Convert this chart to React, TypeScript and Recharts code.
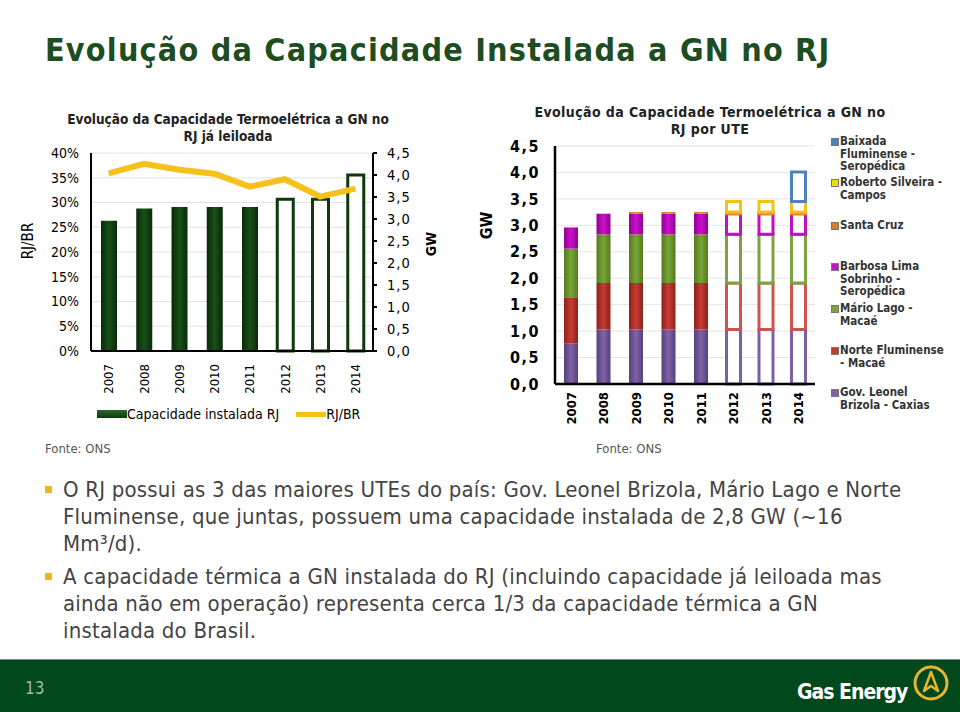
import React from "react";
import {
  Bar,
  BarChart,
  CartesianGrid,
  Cell,
  ComposedChart,
  Line,
  XAxis,
  YAxis,
} from "recharts";

const FONT = '"DejaVu Sans Condensed", "DejaVu Sans", sans-serif';

const years = ["2007", "2008", "2009", "2010", "2011", "2012", "2013", "2014"];
// first year that is only auctioned (hollow bars)
const FIRST_AUCTIONED = 5;

// left chart
const capacidadeRJ = [2.96, 3.24, 3.27, 3.27, 3.27, 3.45, 3.45, 4.0];
const rjbrShare = [0.359, 0.378, 0.366, 0.358, 0.332, 0.347, 0.312, 0.328];
const pctTicks = [0, 0.05, 0.1, 0.15, 0.2, 0.25, 0.3, 0.35, 0.4];
const gwTicks = [0, 0.5, 1, 1.5, 2, 2.5, 3, 3.5, 4, 4.5];

// right chart, stacked per UTE (GW)
const govLeonelBrizola = [0.77, 1.03, 1.03, 1.03, 1.03, 1.03, 1.03, 1.03];
const norteFluminense = [0.87, 0.88, 0.88, 0.88, 0.88, 0.88, 0.88, 0.88];
const marioLago = [0.92, 0.92, 0.92, 0.92, 0.92, 0.92, 0.92, 0.92];
const barbosaLima = [0.4, 0.39, 0.39, 0.39, 0.39, 0.39, 0.39, 0.39];
const santaCruz = [0, 0, 0.03, 0.03, 0.03, 0.03, 0.03, 0.03];
const robertoSilveira = [0, 0, 0, 0, 0, 0.2, 0.2, 0.2];
const baixadaFluminense = [0, 0, 0, 0, 0, 0, 0, 0.56];

const stacks = [
  { key: "gov", values: govLeonelBrizola, color: "#7f62a8", dark: "#56407a", line: "#7a60a4" },
  { key: "norte", values: norteFluminense, color: "#c83a30", dark: "#8c221c", line: "#cc5550" },
  { key: "mario", values: marioLago, color: "#7aa536", dark: "#557a20", line: "#7ea33e" },
  { key: "barbosa", values: barbosaLima, color: "#cc10cc", dark: "#920092", line: "#c010c0" },
  { key: "santa", values: santaCruz, color: "#e8862a", dark: "#b5601a", line: "#e8862a" },
  { key: "roberto", values: robertoSilveira, color: "#f6c800", dark: "#d4a800", line: "#f3c21a" },
  { key: "baixada", values: baixadaFluminense, color: "#4f81bd", dark: "#35608f", line: "#4f81bd" },
];

const legendItems = [
  { lines: ["Baixada", "Fluminense -", "Seropédica"], color: "#4f81bd", top: 135 },
  { lines: ["Roberto Silveira -", "Campos"], color: "#f0e000", top: 176 },
  { lines: ["Santa Cruz"], color: "#e07a2a", top: 219 },
  { lines: ["Barbosa Lima", "Sobrinho -", "Seropédica"], color: "#cc10cc", top: 260 },
  { lines: ["Mário Lago -", "Macaé"], color: "#7aa536", top: 302 },
  { lines: ["Norte Fluminense", "- Macaé"], color: "#c83a30", top: 344 },
  { lines: ["Gov. Leonel", "Brizola - Caxias"], color: "#7f62a8", top: 386 },
];

const leftData = years.map((year, i) => ({
  year,
  gw: capacidadeRJ[i],
  rjbr: rjbrShare[i],
}));

const rightData = years.map((year, i) => {
  const row: Record<string, string | number> = { year };
  stacks.forEach((s) => (row[s.key] = s.values[i]));
  return row;
});

const fmtGW = (v: number) => v.toFixed(1).replace(".", ",");
const fmtPct = (v: number) => `${Math.round(v * 100)}%`;

const YearTick = (props: any) => {
  const { x, y, payload, gap, bold } = props;
  return (
    <g transform={`translate(${x},${y + gap}) rotate(-90)`}>
      <text
        x={0}
        y={0}
        dy="0.36em"
        textAnchor="end"
        fontSize={13}
        fontWeight={bold ? "bold" : "normal"}
        fontFamily={FONT}
        fill="#000"
      >
        {payload.value}
      </text>
    </g>
  );
};

const abs = (left: number, top: number, extra: React.CSSProperties = {}) =>
  ({ position: "absolute", left, top, ...extra }) as React.CSSProperties;

const LeftChart = () => (
  <div style={abs(50, 140)}>
    <ComposedChart
      width={380}
      height={260}
      data={leftData}
      margin={{ top: 13, right: 17, bottom: 4, left: 0 }}
    >
      <defs>
        <linearGradient id="gDark" x1="0" y1="0" x2="1" y2="0">
          <stop offset="0" stopColor="#072b07" />
          <stop offset="0.5" stopColor="#1a4f18" />
          <stop offset="1" stopColor="#072b07" />
        </linearGradient>
      </defs>
      <CartesianGrid vertical={false} stroke="#e2e2e2" yAxisId="pct" />
      <XAxis
        dataKey="year"
        height={45}
        interval={0}
        tickSize={0}
        tickMargin={0}
        axisLine={{ stroke: "#000", strokeWidth: 2 }}
        tickLine={false}
        tick={<YearTick gap={13} />}
      />
      <YAxis
        yAxisId="pct"
        domain={[0, 0.4]}
        ticks={pctTicks}
        interval={0}
        tickFormatter={fmtPct}
        width={41}
        tickSize={0}
        tickMargin={12}
        axisLine={{ stroke: "#000", strokeWidth: 2 }}
        tickLine={false}
        tick={{ fontSize: 14, fill: "#000", fontFamily: FONT }}
      />
      <YAxis
        yAxisId="gw"
        orientation="right"
        domain={[0, 4.5]}
        ticks={gwTicks}
        interval={0}
        tickFormatter={fmtGW}
        width={40}
        tickSize={4}
        tickMargin={10}
        axisLine={{ stroke: "#000", strokeWidth: 2 }}
        tickLine={{ stroke: "#000", strokeWidth: 2 }}
        tick={{ fontSize: 14.5, fill: "#000", fontFamily: FONT, letterSpacing: 1 }}
      />
      <Bar yAxisId="gw" dataKey="gw" barSize={16} isAnimationActive={false}>
        {leftData.map((d, i) => (
          <Cell
            key={d.year}
            fill={i >= FIRST_AUCTIONED ? "#fff" : "url(#gDark)"}
            stroke={i >= FIRST_AUCTIONED ? "#0b3a0b" : "none"}
            strokeWidth={3}
          />
        ))}
      </Bar>
      <Line
        yAxisId="pct"
        dataKey="rjbr"
        stroke="#f7c11c"
        strokeWidth={6}
        dot={false}
        isAnimationActive={false}
      />
    </ComposedChart>
  </div>
);

const RightChart = () => (
  <div style={abs(490, 130)}>
    <BarChart
      width={330}
      height={300}
      data={rightData}
      margin={{ top: 16, right: 5, bottom: 6, left: 0 }}
    >
      <defs>
        {stacks.map((s) => (
          <linearGradient key={s.key} id={`g-${s.key}`} x1="0" y1="0" x2="1" y2="0">
            <stop offset="0" stopColor={s.dark} />
            <stop offset="0.5" stopColor={s.color} />
            <stop offset="1" stopColor={s.dark} />
          </linearGradient>
        ))}
      </defs>
      <CartesianGrid vertical={false} stroke="#e4e4e4" />
      <XAxis
        dataKey="year"
        height={40}
        interval={0}
        tickSize={0}
        tickMargin={0}
        axisLine={{ stroke: "#000", strokeWidth: 2.5 }}
        tickLine={false}
        tick={<YearTick gap={8} bold />}
      />
      <YAxis
        domain={[0, 4.5]}
        ticks={gwTicks}
        interval={0}
        tickFormatter={fmtGW}
        width={65}
        tickSize={0}
        tickMargin={15}
        axisLine={{ stroke: "#000", strokeWidth: 2.5 }}
        tickLine={false}
        tick={{ fontSize: 16, fill: "#000", fontFamily: FONT, fontWeight: "bold", letterSpacing: 1.5 }}
      />
      {stacks.map((s) => (
        <Bar key={s.key} dataKey={s.key} stackId="ute" barSize={14} isAnimationActive={false}>
          {s.values.map((v, i) => (
            <Cell
              key={i}
              fill={i >= FIRST_AUCTIONED ? "#fff" : `url(#g-${s.key})`}
              stroke={i >= FIRST_AUCTIONED && v > 0 ? s.line : "none"}
              strokeWidth={3}
            />
          ))}
        </Bar>
      ))}
    </BarChart>
  </div>
);

const chartTitle: React.CSSProperties = {
  fontFamily: FONT,
  fontWeight: "bold",
  color: "#222",
  textAlign: "center",
  lineHeight: "17px",
};

const bulletText: React.CSSProperties = {
  fontFamily: FONT,
  fontSize: 22,
  letterSpacing: 0.2,
  color: "#444",
  lineHeight: "27px",
  whiteSpace: "nowrap",
};

const Bullet = ({ top, children }: { top: number; children: React.ReactNode }) => (
  <div style={abs(63, top, bulletText)}>
    <span
      style={{
        position: "absolute",
        left: -18,
        top: 10,
        width: 7,
        height: 7,
        background: "#f0b41e",
      }}
    />
    {children}
  </div>
);

export default function App() {
  return (
    <div
      style={{
        position: "fixed",
        left: 0,
        top: 0,
        width: 960,
        height: 712,
        background: "#fff",
        overflow: "hidden",
        fontFamily: FONT,
      }}
    >
      <div
        style={abs(45, 31, {
          fontSize: 32,
          letterSpacing: 1.2,
          fontWeight: "bold",
          color: "#1d4d21",
          whiteSpace: "nowrap",
        })}
      >
        Evolução da Capacidade Instalada a GN no RJ
      </div>

      {/* left chart */}
      <div style={abs(43, 111, { ...chartTitle, width: 370, fontSize: 13.5 })}>
        Evolução da Capacidade Termoelétrica a GN no
        <br />
        RJ já leiloada
      </div>
      <LeftChart />
      <div
        style={abs(6, 232, {
          width: 44,
          textAlign: "center",
          fontSize: 15,
          transform: "rotate(-90deg)",
          color: "#000",
        })}
      >
        RJ/BR
      </div>
      <div
        style={abs(418, 236, {
          width: 26,
          textAlign: "center",
          fontSize: 14,
          fontWeight: "bold",
          transform: "rotate(-90deg)",
          color: "#000",
        })}
      >
        GW
      </div>
      <div style={abs(97, 405, { fontSize: 14, color: "#000", whiteSpace: "nowrap" })}>
        <span
          style={{
            display: "inline-block",
            width: 30,
            height: 8,
            background: "linear-gradient(#2a6a2a, #0b3a0b)",
            verticalAlign: "middle",
          }}
        />
        <span style={{ verticalAlign: "middle" }}>Capacidade instalada RJ</span>
        <span
          style={{
            display: "inline-block",
            width: 30,
            height: 5,
            background: "#f7c11c",
            verticalAlign: "middle",
            marginLeft: 17,
          }}
        />
        <span style={{ verticalAlign: "middle" }}>RJ/BR</span>
      </div>
      <div style={abs(45, 441, { fontSize: 13, color: "#555" })}>Fonte: ONS</div>

      {/* right chart */}
      <div style={abs(520, 104, { ...chartTitle, width: 380, fontSize: 14, letterSpacing: 0.4 })}>
        Evolução da Capacidade Termoelétrica a GN no
        <br />
        RJ por UTE
      </div>
      <RightChart />
      <div
        style={abs(472, 216, {
          width: 28,
          textAlign: "center",
          fontSize: 16,
          fontWeight: "bold",
          transform: "rotate(-90deg)",
          color: "#000",
        })}
      >
        GW
      </div>
      {legendItems.map((item) => (
        <div
          key={item.lines[0]}
          style={abs(840, item.top, {
            fontSize: 11.5,
            fontWeight: "bold",
            color: "#333",
            lineHeight: "12.5px",
            whiteSpace: "nowrap",
          })}
        >
          <span
            style={{
              position: "absolute",
              left: -9,
              top: 3,
              width: 6,
              height: 6,
              background: item.color,
              border: "0.5px solid #777",
            }}
          />
          {item.lines.map((l) => (
            <div key={l}>{l}</div>
          ))}
        </div>
      ))}
      <div style={abs(596, 441, { fontSize: 13, color: "#555" })}>Fonte: ONS</div>

      {/* bullets */}
      <Bullet top={476}>
        O RJ possui as 3 das maiores UTEs do país: Gov. Leonel Brizola, Mário Lago e Norte
        <br />
        Fluminense, que juntas, possuem uma capacidade instalada de 2,8 GW (~16
        <br />
        Mm³/d).
      </Bullet>
      <Bullet top={563}>
        A capacidade térmica a GN instalada do RJ (incluindo capacidade já leiloada mas
        <br />
        ainda não em operação) representa cerca 1/3 da capacidade térmica a GN
        <br />
        instalada do Brasil.
      </Bullet>

      {/* footer */}
      <div style={abs(0, 659, { width: 960, height: 1, background: "#7f8f82" })} />
      <div style={abs(0, 660, { width: 960, height: 52, background: "#01481c" })} />
      <div style={abs(25, 678, { fontSize: 17, color: "#9cbf9c" })}>13</div>
      <div
        style={abs(797, 680, {
          fontSize: 21,
          fontWeight: "bold",
          color: "#fff",
          letterSpacing: -1,
          whiteSpace: "nowrap",
        })}
      >
        Gas Energy
      </div>
      <svg style={abs(910, 662)} width={42} height={42}>
        <circle cx={21} cy={21} r={16} fill="none" stroke="#e9b431" strokeWidth={3} />
        <path d="M21 10 L28 29 L21 24 L14 29 Z" fill="none" stroke="#e9b431" strokeWidth={2.5} strokeLinejoin="round" />
      </svg>
    </div>
  );
}
